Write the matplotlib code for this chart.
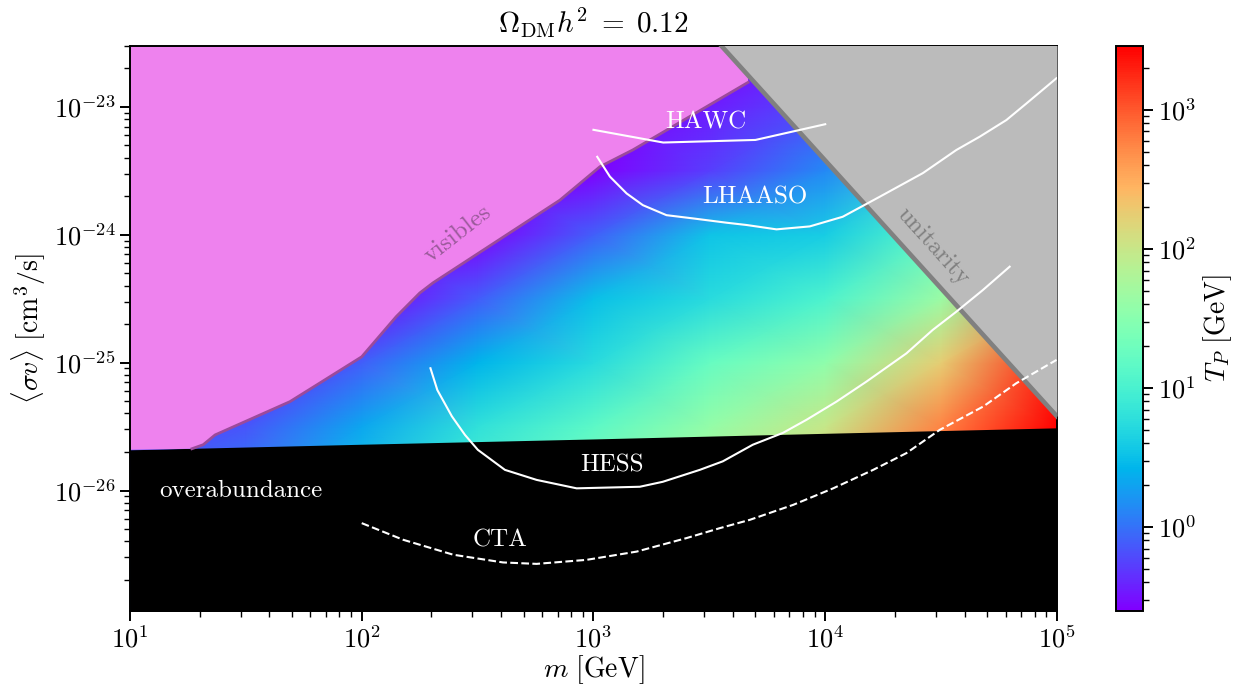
import numpy as np
import matplotlib
matplotlib.use('Agg')
import matplotlib.pyplot as plt
from matplotlib.colors import LogNorm

plt.rcParams['font.family'] = 'serif'
plt.rcParams['font.serif'] = ['cmr10']
plt.rcParams['mathtext.fontset'] = 'cm'
plt.rcParams['axes.formatter.use_mathtext'] = True
plt.rcParams['font.size'] = 18

# T_P field, log10(T_P / GeV) at grid nodes
logm_nodes = [1, 1.5, 2, 2.5, 3, 3.5, 4, 4.5, 5]
logsv_nodes = [-27, -26, -25.5, -25, -24.5, -24, -23.5, -23, -22.5]
logT_grid = [
    [0.3, 0.5, 1.0, 1.5, 1.9, 2.3, 2.8, 3.5, 4.2],
    [-0.1, 0.1, 0.6, 1.05, 1.4, 1.85, 2.3, 3.0, 3.8],
    [-0.3, -0.15, 0.33, 0.8, 1.15, 1.6, 2.0, 2.75, 3.6],
    [-0.6, -0.5, -0.1, 0.42, 0.74, 1.23, 1.55, 2.25, 3.3],
    [-0.8, -0.8, -0.6, -0.11, 0.5, 0.74, 1.03, 1.64, 2.6],
    [-1.0, -1.0, -0.9, -0.6, -0.1, 0.54, 0.62, 1.2, 2.0],
    [-1.2, -1.2, -1.1, -1.0, -0.6, -0.27, 0.13, 0.8, 1.5],
    [-1.4, -1.4, -1.3, -1.2, -0.9, -0.45, -0.2, 0.3, 1.0],
    [-1.6, -1.6, -1.5, -1.4, -1.1, -0.7, -0.5, 0.0, 0.6],
]

# overabundance boundary
over_m = [10, 100, 1e3, 1e4, 1e5]
over_sv = [2.08e-26, 2.3e-26, 2.53e-26, 2.8e-26, 3.09e-26]

# visibles boundary
vis_m = [18.5, 20.7, 23.3, 49, 66, 100, 141, 178, 203, 716, 1067, 1480, 4645]
vis_sv = [2.12e-26, 2.28e-26, 2.72e-26, 4.95e-26, 6.93e-26, 1.11e-25, 2.29e-25,
          3.5e-25, 4.2e-25, 1.86e-24, 3.4e-24, 4.6e-24, 1.55e-23]

# unitarity line
unit_m = [3000, 1e5]
unit_sv = [4.22e-23, 3.8e-26]

# experimental limits
hawc_m = [1000, 2000, 5000, 10000]
hawc_sv = [6.6e-24, 5.25e-24, 5.5e-24, 7.3e-24]

lhaaso_m = [1038, 1178, 1390, 1634, 2066, 2685, 3751, 4575, 6163, 8576, 11900,
            17200, 26400, 36800, 46400, 60500, 73800, 99500]
lhaaso_sv = [4.06e-24, 2.84e-24, 2.1e-24, 1.7e-24, 1.42e-24, 1.34e-24, 1.24e-24,
             1.19e-24, 1.10e-24, 1.16e-24, 1.38e-24, 1.98e-24, 3.03e-24,
             4.59e-24, 5.83e-24, 7.87e-24, 1.06e-23, 1.67e-23]

hess_m = [198, 212, 245, 279, 317, 415, 569, 846, 1585, 1991, 2875, 3613, 4870,
          6565, 8300, 11180, 15060, 22400, 29100, 36800, 47800, 62500]
hess_sv = [9.03e-26, 6.1e-26, 3.8e-26, 2.72e-26, 2.08e-26, 1.45e-26, 1.21e-26,
           1.04e-26, 1.07e-26, 1.17e-26, 1.45e-26, 1.69e-26, 2.28e-26,
           2.82e-26, 3.57e-26, 4.95e-26, 7.1e-26, 1.18e-25, 1.8e-25, 2.5e-25,
           3.68e-25, 5.62e-25]

cta_m = [100, 151, 248, 407, 568, 933, 1535, 2524, 3510, 4730, 7280, 10820,
         16100, 22400, 31200, 48000, 66800, 99600]
cta_sv = [5.56e-27, 4.12e-27, 3.15e-27, 2.74e-27, 2.67e-27, 2.87e-27,
          3.33e-27, 4.25e-27, 5.08e-27, 5.9e-27, 7.73e-27, 1.04e-26,
          1.45e-26, 1.96e-26, 2.98e-26, 4.53e-26, 6.9e-26, 1.05e-25]

fig = plt.figure(figsize=(12.4, 6.86), dpi=100)
ax = fig.add_axes([0.1048, 0.1098, 0.7476, 0.8236])
cax = fig.add_axes([0.8998, 0.1098, 0.0223, 0.8236])

M, S = np.meshgrid(10.0 ** np.array(logm_nodes), 10.0 ** np.array(logsv_nodes))
T = 10.0 ** np.array(logT_grid)
norm = LogNorm(vmin=0.25, vmax=2900)
mesh = ax.pcolormesh(M, S, T, cmap='rainbow', norm=norm, shading='gouraud',
                     zorder=0, rasterized=True)

ax.fill_between(over_m, 1e-28, over_sv, color='black', lw=0, zorder=1)
ax.fill(np.r_[10, vis_m, vis_m[-1], 10], np.r_[over_sv[0], vis_sv, 1e-22, 1e-22],
        color='violet', lw=0, zorder=2)
ax.plot(vis_m, vis_sv, color='#9b4a9b', lw=2, zorder=3)
ax.fill_between(unit_m, unit_sv, 1e-22, color='#bbbbbb', lw=0, zorder=4)
ax.plot(unit_m, unit_sv, color='gray', lw=3.3, zorder=5)

ax.plot(hawc_m, hawc_sv, color='white', lw=1.5, zorder=6)
ax.plot(lhaaso_m, lhaaso_sv, color='white', lw=1.5, zorder=6)
ax.plot(hess_m, hess_sv, color='white', lw=1.5, zorder=6)
ax.plot(cta_m, cta_sv, color='white', lw=1.5, ls='--', zorder=6)

ax.text(3055, 7.6e-24, 'HAWC', color='white', ha='center', va='center', zorder=7)
ax.text(4970, 1.96e-24, 'LHAASO', color='white', ha='center', va='center', zorder=7)
ax.text(1200, 1.56e-26, 'HESS', color='white', ha='center', va='center', zorder=7)
ax.text(395, 4.05e-27, 'CTA', color='white', ha='center', va='center', zorder=7)
ax.text(30, 1.0e-26, 'overabundance', color='white', ha='center', va='center', zorder=7)
ax.text(260, 1.01e-24, 'visibles', color='#9a5a9a', rotation=38,
        ha='center', va='center', zorder=7)
ax.text(29000, 8.1e-25, 'unitarity', color='gray', rotation=-48,
        ha='center', va='center', zorder=7)

ax.set_xscale('log')
ax.set_yscale('log')
ax.set_xlim(10, 1e5)
ax.set_ylim(1.15e-27, 3e-23)
ax.set_xlabel(r'$m\ [\mathrm{GeV}]$', fontsize=20, labelpad=1)
ax.set_ylabel(r'$\langle\sigma v\rangle\ [\mathrm{cm}^3/\mathrm{s}]$', fontsize=20)
ax.set_title(r'$\Omega_{\rm DM}h^2 \;=\; 0.12$', fontsize=21, pad=9)
ax.tick_params(which='major', length=7, width=1.4, labelsize=19)
ax.tick_params(which='minor', length=4, width=1.0)
for sp in ax.spines.values():
    sp.set_linewidth(1.4)

cb = fig.colorbar(mesh, cax=cax)
cb.set_label(r'$T_P\ [\mathrm{GeV}]$', fontsize=20)
cb.outline.set_linewidth(1.4)
cax.tick_params(which='major', length=7, width=1.4, labelsize=19)
cax.tick_params(which='minor', length=4, width=1.0)

fig.savefig('out.png', dpi=100)
